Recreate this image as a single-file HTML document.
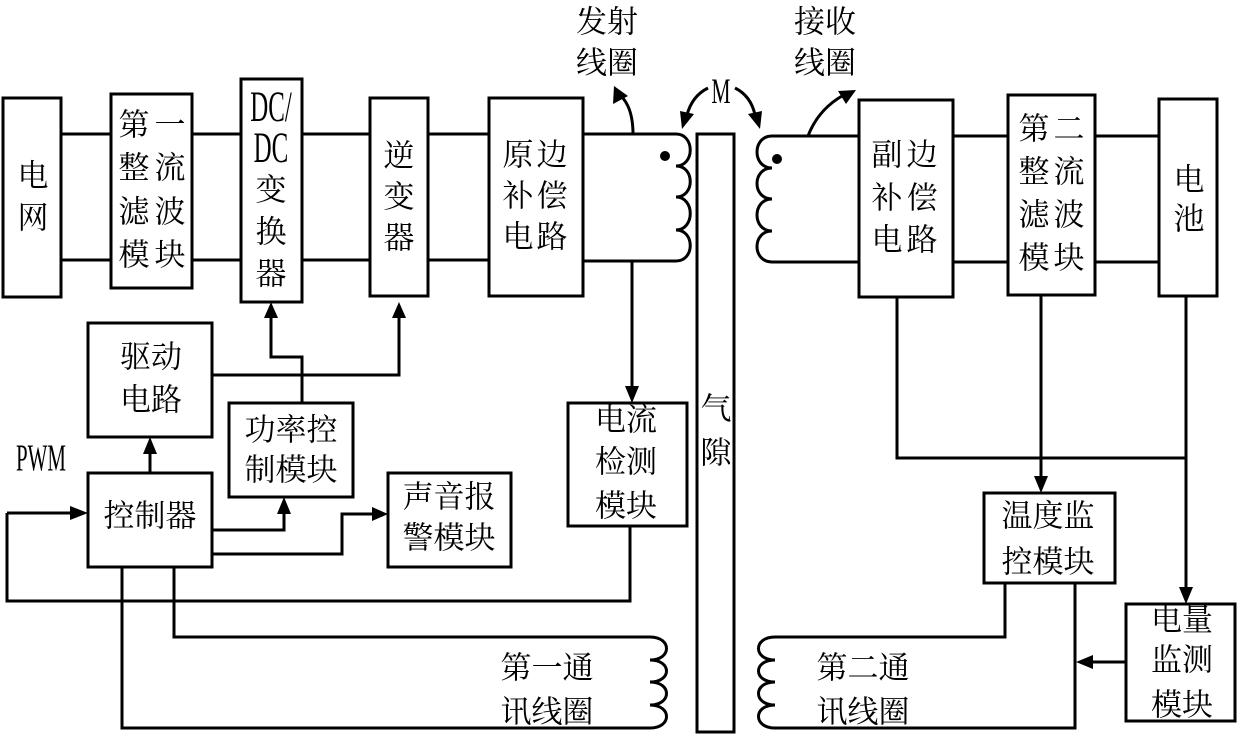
<!DOCTYPE html>
<html><head><meta charset="utf-8"><style>
html,body{margin:0;padding:0;background:#fff}
svg{display:block}
text{font-family:"Liberation Serif","Noto Serif CJK SC",serif;font-size:31px;fill:#000;text-anchor:middle;dominant-baseline:central}
</style></head><body>
<svg width="1240" height="739" viewBox="0 0 1240 739" xmlns="http://www.w3.org/2000/svg">
<g fill="none" stroke="#000" stroke-width="3">
<rect x="3" y="98" width="58" height="199"/>
<rect x="111" y="94" width="81" height="194"/>
<rect x="241" y="79" width="61" height="223"/>
<rect x="370" y="98" width="58" height="198"/>
<rect x="489" y="98" width="94" height="198"/>
<rect x="859" y="100" width="94" height="197"/>
<rect x="1008" y="95" width="87" height="200"/>
<rect x="1159" y="99" width="58" height="197"/>
<rect x="88" y="323" width="124" height="114"/>
<rect x="229" y="403" width="124" height="94"/>
<rect x="88" y="473" width="124" height="94"/>
<rect x="388" y="473" width="123" height="94"/>
<rect x="568" y="403" width="119" height="123"/>
<rect x="697" y="134" width="37" height="598"/>
<rect x="984" y="493" width="131" height="90"/>
<rect x="1126" y="604" width="109" height="117"/>
<path d="M61 134H111M192 134H241M302 134H370M428 134H489M61 260H111M192 260H241M302 260H370M428 260H489"/>
<path d="M953 136H1008M1095 136H1159M953 262H1008M1095 262H1159"/>
<path d="M583 134H676C695 134 695 166 676 166C695 166 695 197 676 197C695 197 695 230 676 230C695 230 695 261 676 261H583"/>
<path d="M859 136H772C752 136 752 168 772 168C752 168 752 199 772 199C752 199 752 231 772 231C752 231 752 262 772 262H859"/>
<path d="M271 316V357H302V403"/>
<path d="M212 375H399V316"/>
<path d="M150 473V452"/>
<path d="M7 513H74"/>
<path d="M7 513V601H630V526"/>
<path d="M212 530H284V512"/>
<path d="M212 554H342V514H374"/>
<path d="M632 261V388"/>
<path d="M174 567V637H650C672 637 672 660 650 660C672 660 672 682 650 682C672 682 672 705 650 705C672 705 672 728 650 728H122V567"/>
<path d="M1005 583V637H775C753 637 753 660 775 660C753 660 753 682 775 682C753 682 753 705 775 705C753 705 753 728 775 728H1075V583"/>
<path d="M1126 662H1090"/>
<path d="M897 297V458H1186"/>
<path d="M1041 295V478"/>
<path d="M1186 296V589"/>
<path d="M633 134Q633 108 621 96"/>
<path d="M808 136Q818 110 842 96"/>
<path d="M708 88Q692 96 687 115"/>
<path d="M735 88Q751 96 755 115"/>
</g>
<g fill="#000">
<circle cx="665" cy="156" r="5"/>
<circle cx="777" cy="159" r="5"/>
<polygon points="271,302 264,318 278,318"/>
<polygon points="399,302 392,318 406,318"/>
<polygon points="150,437 143,454 157,454"/>
<polygon points="88,513 70,506 70,520"/>
<polygon points="284,497 277,514 291,514"/>
<polygon points="388,514 372,507 372,521"/>
<polygon points="632,403 625,386 639,386"/>
<polygon points="1041,493 1034,476 1048,476"/>
<polygon points="1186,604 1179,587 1193,587"/>
<polygon points="1076,662 1093,655 1093,669"/>
<polygon points="614,86 613,104 628,96"/>
<polygon points="856,90 838,91 846,104"/>
<polygon points="682,129 680,111 694,114"/>
<polygon points="760,129 748,114 762,111"/>
</g>
<g>
<text x="33" y="176">电</text><text x="33" y="218">网</text>
<text x="134" y="125">第</text><text x="170" y="125">一</text>
<text x="134" y="168">整</text><text x="170" y="168">流</text>
<text x="134" y="212">滤</text><text x="170" y="212">波</text>
<text x="134" y="255">模</text><text x="170" y="255">块</text>
<text x="271" y="107" style="font-size:43px" transform="translate(271 0) scale(0.58 1) translate(-271 0)">DC/</text>
<text x="271" y="148" style="font-size:43px" transform="translate(271 0) scale(0.58 1) translate(-271 0)">DC</text>
<text x="271" y="190">变</text><text x="271" y="232">换</text><text x="271" y="274">器</text>
<text x="399" y="156">逆</text><text x="399" y="197">变</text><text x="399" y="238">器</text>
<text x="518" y="155">原</text><text x="552" y="155">边</text>
<text x="518" y="196">补</text><text x="552" y="196">偿</text>
<text x="518" y="237">电</text><text x="552" y="237">路</text>
<text x="887" y="155">副</text><text x="922" y="155">边</text>
<text x="887" y="198">补</text><text x="922" y="198">偿</text>
<text x="887" y="240">电</text><text x="922" y="240">路</text>
<text x="1034" y="129">第</text><text x="1069" y="129">二</text>
<text x="1034" y="172">整</text><text x="1069" y="172">流</text>
<text x="1034" y="215">滤</text><text x="1069" y="215">波</text>
<text x="1034" y="258">模</text><text x="1069" y="258">块</text>
<text x="1189" y="180">电</text><text x="1189" y="219">池</text>
<text x="607" y="22">发射</text><text x="607" y="63">线圈</text>
<text x="825" y="22">接收</text><text x="825" y="63">线圈</text>
<text x="721" y="92" style="font-size:36px" transform="translate(721 0) scale(0.6 1) translate(-721 0)">M</text>
<text x="151" y="357">驱动</text><text x="151" y="400">电路</text>
<text x="291" y="430">功率控</text><text x="291" y="470">制模块</text>
<text x="150" y="516">控制器</text>
<text x="449" y="497">声音报</text><text x="449" y="538">警模块</text>
<text x="626" y="420">电流</text><text x="626" y="462">检测</text><text x="626" y="506">模块</text>
<text x="716" y="409">气</text><text x="716" y="453">隙</text>
<text x="547" y="668">第一通</text><text x="547" y="712">讯线圈</text>
<text x="863" y="668">第二通</text><text x="863" y="712">讯线圈</text>
<text x="1048" y="516">温度监</text><text x="1048" y="562">控模块</text>
<text x="1182" y="620">电量</text><text x="1182" y="660">监测</text><text x="1182" y="705">模块</text>
<text x="41" y="458" style="font-size:38px" transform="translate(41 0) scale(0.55 1) translate(-41 0)">PWM</text>
</g>
</svg>
</body></html>
